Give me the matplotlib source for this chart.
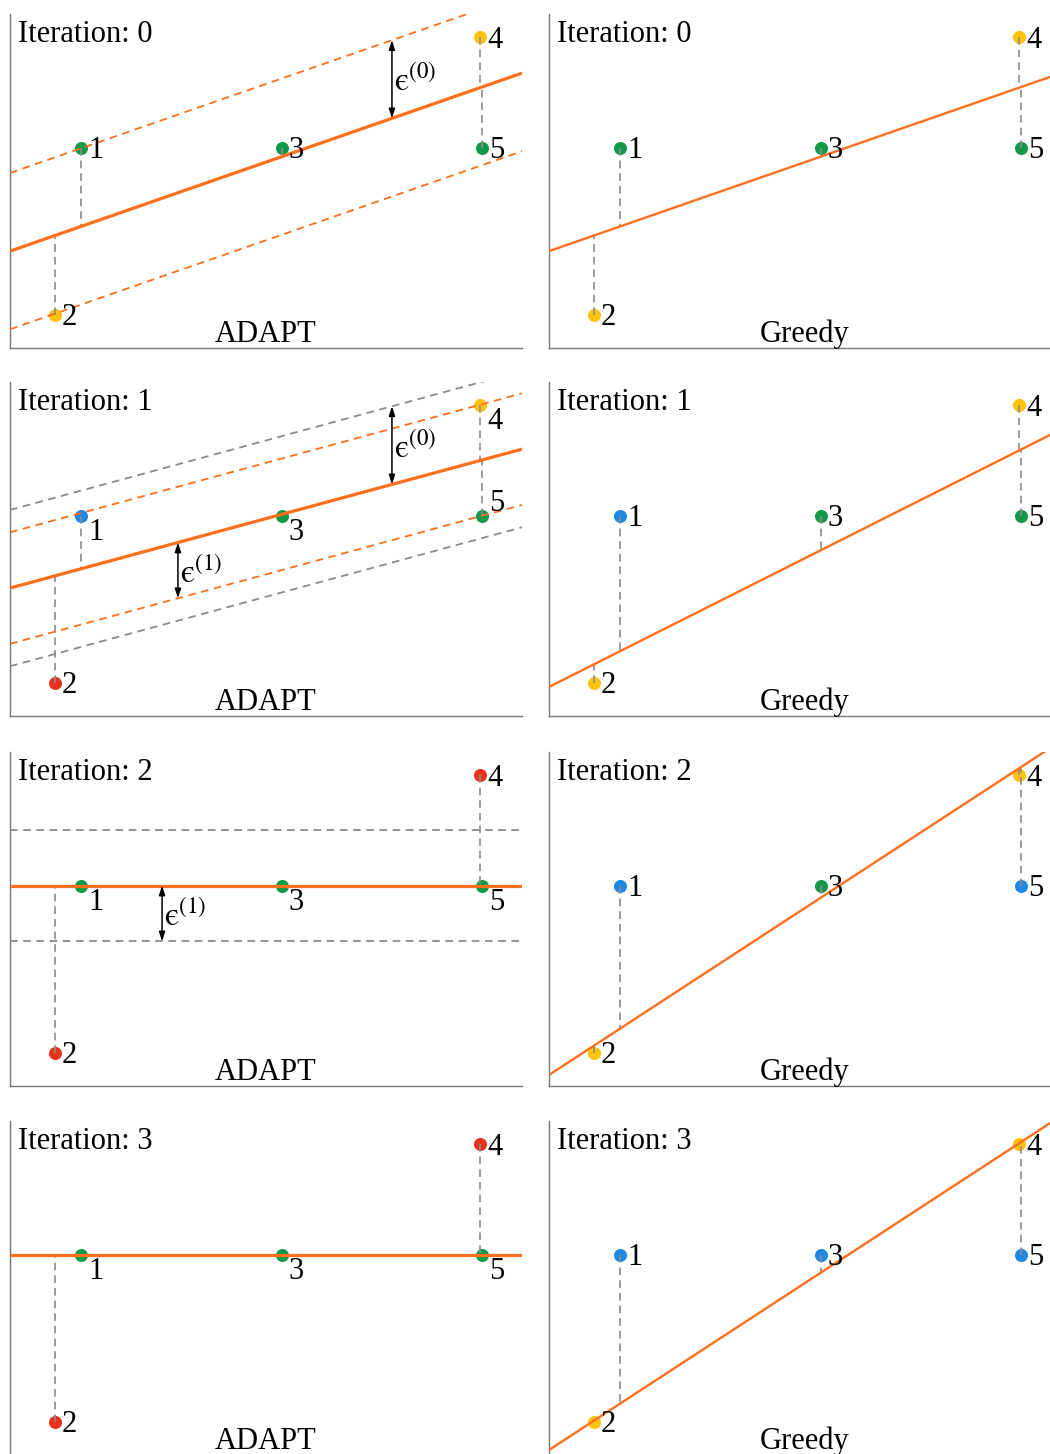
import matplotlib
matplotlib.use("Agg")
import matplotlib.pyplot as plt

plt.rcParams["font.family"] = ["Liberation Serif", "DejaVu Serif"]
plt.rcParams["mathtext.fontset"] = "stix"
plt.rcParams["lines.scale_dashes"] = False

# ---- data -------------------------------------------------------------
point_ids = ["1", "2", "3", "4", "5"]
point_x = [1.39, 0.88, 5.31, 9.18, 9.22]
point_y = [6.0, 1.0, 6.0, 9.3, 6.0]

iterations = [0, 1, 2, 3]

# point state per iteration: g = inlier, y = candidate, b = removed, r = outlier
adapt_state = [
    ["g", "y", "g", "y", "g"],
    ["b", "r", "g", "y", "g"],
    ["g", "r", "g", "r", "g"],
    ["g", "r", "g", "r", "g"],
]
greedy_state = [
    ["g", "y", "g", "y", "g"],
    ["b", "y", "g", "y", "g"],
    ["b", "y", "g", "y", "b"],
    ["b", "y", "b", "y", "b"],
]

# fitted lines (intercept, slope) per iteration
adapt_fit = [(2.90, 0.533), (3.83, 0.416), (6.0, 0.0), (6.0, 0.0)]
greedy_fit = [(2.90, 0.533), (0.87, 0.771), (0.33, 1.0), (0.15, 1.0)]

# tolerance widths
eps_values = [2.34, 1.67]

# tolerance bands drawn around the ADAPT fit: (eps index, colour key)
adapt_bands = [
    [(0, "orange")],
    [(1, "orange"), (0, "gray")],
    [(1, "gray")],
    [],
]
# tolerance arrows: (eps index, x position, direction)
adapt_arrows = [
    [(0, 7.46, 1)],
    [(0, 7.46, 1), (1, 3.28, -1)],
    [(1, 2.97, -1)],
    [],
]
# label placement of the point numbers in ADAPT panels
adapt_label_pos = [
    ["r", "r", "r", "r", "r"],
    ["b", "r", "b", "b", "a"],
    ["b", "r", "b", "r", "b"],
    ["b", "r", "b", "r", "b"],
]

# ---- style ------------------------------------------------------------
state_colors = {"g": "#12994a", "y": "#ffc20f", "b": "#1f88e3", "r": "#e8321b"}
band_colors = {"orange": "#ff6e1a", "gray": "#8a8a8a"}
ORANGE = "#ff6e1a"
GRAY = "#8a8a8a"
SPINE = "#777777"
label_offsets = {"r": (7, -10.5), "b": (7, -24), "a": (7, 5)}
FS = 22

W, H = 1050, 1454
fig = plt.figure(figsize=(W / 100, H / 100), dpi=100)

col_left = [10, 549]
row_bottom = [348, 716, 1086, 1455]
ax_w, ax_h = 512, 334


def line_y(fit, x):
    b, m = fit
    return b + m * x


def draw_panel(ax, it, states, fit, method, lw, bands, arrows, label_pos):
    ax.set_xlim(0, 10)
    ax.set_ylim(0, 10)
    ax.set_xticks([])
    ax.set_yticks([])
    for s in ["top", "right"]:
        ax.spines[s].set_visible(False)
    for s in ["left", "bottom"]:
        ax.spines[s].set_color(SPINE)
        ax.spines[s].set_linewidth(1.0)

    # points
    for i in range(len(point_ids)):
        ax.plot(point_x[i], point_y[i], "o", ms=9.4, mec="none",
                color=state_colors[states[i]], zorder=2)

    # residuals to the fit
    for i in range(len(point_ids)):
        yl = line_y(fit, point_x[i])
        if abs(yl - point_y[i]) > 0.05:
            ax.plot([point_x[i], point_x[i]], [point_y[i], yl], color=GRAY,
                    lw=1.2, linestyle=(0, (5.5, 3.6)), zorder=3)

    xs = [0, 10]
    # tolerance bands
    for k, c in bands:
        e = eps_values[k]
        for sgn in (1, -1):
            ax.plot(xs, [line_y(fit, x) + sgn * e for x in xs],
                    color=band_colors[c], lw=1.3,
                    linestyle=(0, (5.5, 4.0)), zorder=3)

    # fitted line
    ax.plot(xs, [line_y(fit, x) for x in xs], color=ORANGE, lw=lw, zorder=4,
            solid_capstyle="butt")

    # tolerance arrows
    for k, xa, d in arrows:
        e = eps_values[k]
        y0 = line_y(fit, xa)
        y1 = y0 + d * e
        ax.annotate("", xy=(xa, y1), xytext=(xa, y0),
                    arrowprops=dict(arrowstyle="<|-|>,head_length=0.55,head_width=0.18",
                                    color="black", lw=1.1, shrinkA=0, shrinkB=0),
                    zorder=5)
        ax.annotate("$\\mathrm{\u03f5}^{(%d)}$" % k, xy=(xa, (y0 + y1) / 2),
                    xytext=(2, -3), textcoords="offset pixels",
                    ha="left", va="center", fontsize=23.5, zorder=5)

    # point numbers
    for i, pid in enumerate(point_ids):
        dx, dy = label_offsets[label_pos[i]]
        ax.annotate(pid, xy=(point_x[i], point_y[i]), xytext=(dx, dy),
                    textcoords="offset pixels", ha="left", va="baseline",
                    fontsize=FS, zorder=6)

    ax.text(8 / ax_w, 1 - 28 / ax_h, "Iteration: %d" % it, transform=ax.transAxes,
            ha="left", va="baseline", fontsize=FS)
    ax.text(0.5, 6 / ax_h, method, transform=ax.transAxes,
            ha="center", va="baseline", fontsize=FS)


for r, it in enumerate(iterations):
    bottom = 1 - row_bottom[r] / H
    for c in range(2):
        ax = fig.add_axes([col_left[c] / W, bottom, ax_w / W, ax_h / H])
        ax.patch.set_alpha(0)
        if c == 0:
            draw_panel(ax, it, adapt_state[r], adapt_fit[r], "ADAPT", 2.3,
                       adapt_bands[r], adapt_arrows[r], adapt_label_pos[r])
        else:
            draw_panel(ax, it, greedy_state[r], greedy_fit[r], "Greedy", 1.7,
                       [], [], ["r"] * 5)

fig.savefig("out.png", dpi=100)
